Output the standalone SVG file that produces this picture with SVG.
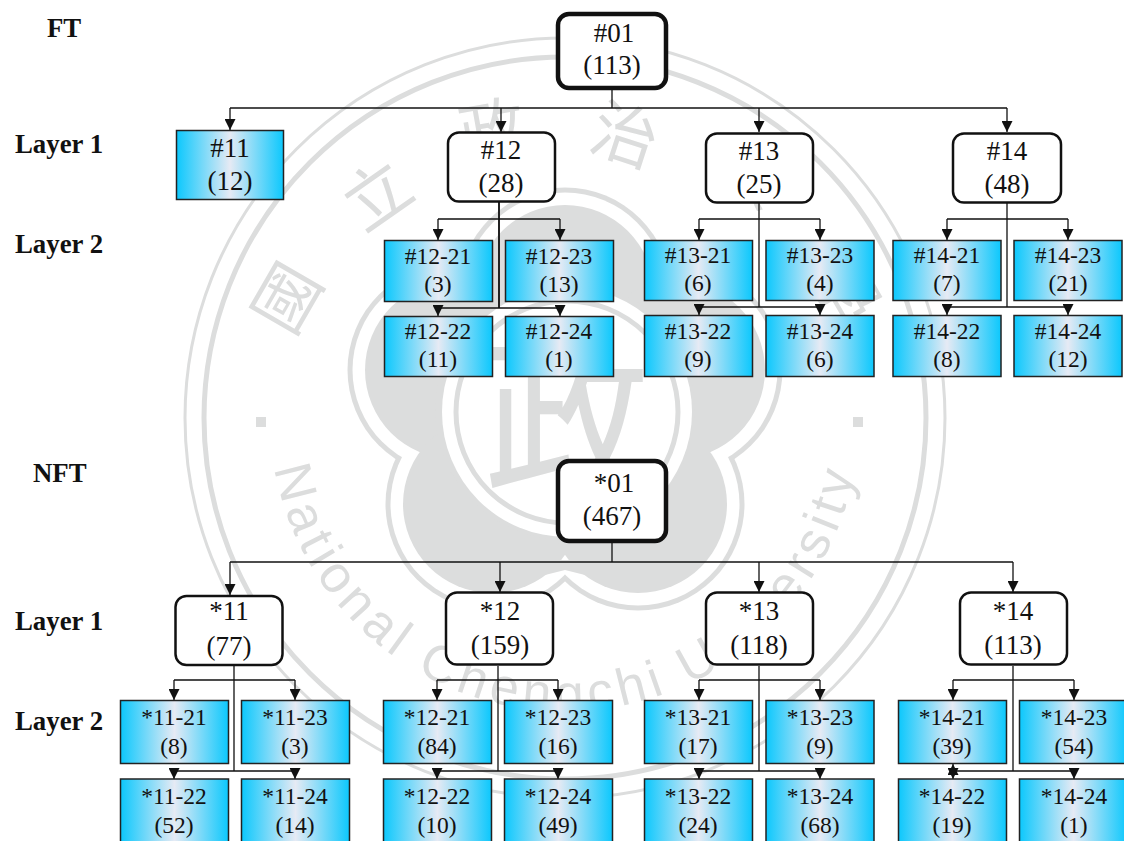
<svg xmlns="http://www.w3.org/2000/svg" width="1124" height="841" viewBox="0 0 1124 841">
<style>
text{font-family:"Liberation Serif","Times New Roman",serif;fill:#111;text-anchor:middle}
.lab{font-weight:bold;font-size:26.800px;text-anchor:start}
.big{font-size:27px}
.mid{font-size:23.500px}
.leaf{fill:url(#g);stroke:#222;stroke-width:1.5}
.box{fill:#fff;stroke:#111;stroke-width:2.5}
.root{fill:#fff;stroke:#111;stroke-width:4.5}
.c{fill:none;stroke:#111;stroke-width:1.3}
.t{fill:none;stroke:#222;stroke-width:2}
.w{fill:none;stroke:#dcdddd}
.wt{fill:#dcdddd;font-family:"Noto Sans CJK TC","Noto Sans",sans-serif}
.wl{fill:#dcdddd;font-family:"Liberation Sans",sans-serif;font-size:52px;letter-spacing:5.500px}
</style>
<defs>
<linearGradient id="g"><stop offset="0" stop-color="#0cc8fd"/><stop offset=".5" stop-color="#e6eaf4"/><stop offset="1" stop-color="#0cc8fd"/></linearGradient>
<marker id="a" markerUnits="userSpaceOnUse" markerWidth="11" markerHeight="11" refX="11" refY="5.500" orient="auto"><path d="M0 0L11 5.500L0 11Z" fill="#111"/></marker>
</defs>
<g id="watermark">
<circle class="w" cx="565" cy="418" r="380" stroke-width="3"/>
<circle class="w" cx="565" cy="418" r="361" stroke-width="5"/>
<g fill="#dcdddd"><circle cx="565" cy="294" r="106.500"/><circle cx="454" cy="370" r="106.500"/><circle cx="676" cy="370" r="106.500"/><circle cx="492" cy="504" r="106.500"/><circle cx="638" cy="504" r="106.500"/></g>
<g fill="#fff"><circle cx="565" cy="294" r="101.500"/><circle cx="454" cy="370" r="101.500"/><circle cx="676" cy="370" r="101.500"/><circle cx="492" cy="504" r="101.500"/><circle cx="638" cy="504" r="101.500"/><circle cx="565" cy="410" r="130"/></g>
<g fill="#dcdddd"><circle cx="565" cy="294" r="89"/><circle cx="454" cy="370" r="89"/><circle cx="676" cy="370" r="89"/><circle cx="492" cy="504" r="89"/><circle cx="638" cy="504" r="89"/><circle cx="565" cy="410" r="130"/><path d="M530 560L545 575L565 570L585 575L600 560Z"/></g>
<circle cx="567" cy="412" r="125" fill="#fff"/>
<circle cx="567" cy="412" r="111" fill="none" stroke="#dcdddd" stroke-width="5"/>
<text class="wt" font-size="165" x="567" y="478" transform="translate(0 -46) scale(1 1.121)">政</text>
<text class="wt" font-size="66" x="287" y="322" transform="rotate(-60 287 298)">國</text>
<text class="wt" font-size="66" x="377" y="219" transform="rotate(-35 377 195)">立</text>
<text class="wt" font-size="66" x="492" y="154" transform="rotate(-10 492 130)">政</text>
<text class="wt" font-size="66" x="625" y="159" transform="rotate(18 625 135)">治</text>
<text class="wt" font-size="66" x="752" y="196" transform="rotate(35 752 172)">大</text>
<text class="wt" font-size="66" x="845" y="314" transform="rotate(60 845 290)">學</text>
<rect x="256" y="417" width="10" height="10" fill="#dcdddd"/>
<rect x="853" y="417" width="10" height="10" fill="#dcdddd"/>
<path id="arc" fill="none" d="M277 480A295 295 0 0 0 853 480"/>
<text class="wl"><textPath href="#arc" startOffset="50%">National Chengchi University</textPath></text>
</g>
<g id="connectors">
<path class="c" d="M612 90V108"/>
<path class="c" d="M230 108H1007"/>
<path class="c" d="M230 108V130" marker-end="url(#a)"/><path class="c" d="M501 108V132" marker-end="url(#a)"/><path class="c" d="M759 108V132" marker-end="url(#a)"/><path class="c" d="M1007 108V132" marker-end="url(#a)"/>
<path class="t" d="M499 201V308"/><path class="c" d="M438 219H560M438 308H560"/><path class="c" d="M438 219V240" marker-end="url(#a)"/><path class="c" d="M560 219V240" marker-end="url(#a)"/><path class="c" d="M438 305V316" marker-end="url(#a)"/><path class="c" d="M560 305V316" marker-end="url(#a)"/>
<path class="c" d="M759 203V307M699 219H820M699 307H820"/><path class="c" d="M699 219V240" marker-end="url(#a)"/><path class="c" d="M820 219V240" marker-end="url(#a)"/><path class="c" d="M699 304V315" marker-end="url(#a)"/><path class="c" d="M820 304V315" marker-end="url(#a)"/>
<path class="c" d="M1007 203V307M947 219H1068M947 307H1068"/><path class="c" d="M947 219V240" marker-end="url(#a)"/><path class="c" d="M1068 219V240" marker-end="url(#a)"/><path class="c" d="M947 304V315" marker-end="url(#a)"/><path class="c" d="M1068 304V315" marker-end="url(#a)"/>
<path class="c" d="M612 543V562"/>
<path class="c" d="M230 562H1013"/><path class="c" d="M230 562V595" marker-end="url(#a)"/><path class="c" d="M500 562V592" marker-end="url(#a)"/><path class="c" d="M759 562V592" marker-end="url(#a)"/><path class="c" d="M1013 562V592" marker-end="url(#a)"/>
<path class="c" d="M234 666V771M174 680H295M174 771H295"/><path class="c" d="M174 680V700" marker-end="url(#a)"/><path class="c" d="M295 680V700" marker-end="url(#a)"/><path class="c" d="M174 768V779" marker-end="url(#a)"/><path class="c" d="M295 768V779" marker-end="url(#a)"/>
<path class="c" d="M498 666V771M437 680H558M437 771H558"/><path class="c" d="M437 680V700" marker-end="url(#a)"/><path class="c" d="M558 680V700" marker-end="url(#a)"/><path class="c" d="M437 768V779" marker-end="url(#a)"/><path class="c" d="M558 768V779" marker-end="url(#a)"/>
<path class="c" d="M759 666V771M699 680H820M699 771H820"/><path class="c" d="M699 680V700" marker-end="url(#a)"/><path class="c" d="M820 680V700" marker-end="url(#a)"/><path class="c" d="M699 768V779" marker-end="url(#a)"/><path class="c" d="M820 768V779" marker-end="url(#a)"/>
<path class="c" d="M1013 666V771M953 680H1074M953 771H1074"/><path class="c" d="M953 680V700" marker-end="url(#a)"/><path class="c" d="M1074 680V700" marker-end="url(#a)"/><path class="c" d="M953 768V779" marker-end="url(#a)"/><path class="c" d="M1074 768V779" marker-end="url(#a)"/>
<path class="c" d="M953 776V764" marker-end="url(#a)"/>
</g>
<g id="labels">
<text class="lab" x="47" y="37">FT</text><text class="lab" x="15" y="153">Layer 1</text><text class="lab" x="15" y="253">Layer 2</text>
<text class="lab" x="33" y="482">NFT</text><text class="lab" x="15" y="630">Layer 1</text><text class="lab" x="15" y="730">Layer 2</text>
</g>
<g id="n01"><rect class="root" x="558" y="14" width="108" height="74" rx="11"/><text class="big" x="614" y="42">#01</text><text class="big" x="612" y="74">(113)</text></g>
<g id="n11"><rect class="leaf" x="176.500" y="130.500" width="107" height="69"/><text class="big" x="230" y="157">#11</text><text class="big" x="230" y="190">(12)</text></g>
<g id="n12"><rect class="box" x="448" y="132.500" width="107" height="69" rx="11"/><text class="big" x="501" y="159">#12</text><text class="big" x="501" y="192">(28)</text></g>
<g id="n13"><rect class="box" x="706" y="133.500" width="107" height="69" rx="11"/><text class="big" x="759" y="160">#13</text><text class="big" x="759" y="193">(25)</text></g>
<g id="n14"><rect class="box" x="953" y="133.500" width="108" height="69" rx="11"/><text class="big" x="1007" y="160">#14</text><text class="big" x="1007" y="193">(48)</text></g>
<g id="n1221"><rect class="leaf" x="384.500" y="240.500" width="108" height="61"/><text class="mid" x="438" y="264">#12-21</text><text class="mid" x="438" y="292">(3)</text></g>
<g id="n1223"><rect class="leaf" x="505.500" y="240.500" width="108" height="61"/><text class="mid" x="559" y="264">#12-23</text><text class="mid" x="559" y="292">(13)</text></g>
<g id="n1222"><rect class="leaf" x="384.500" y="316.500" width="108" height="60"/><text class="mid" x="438" y="339">#12-22</text><text class="mid" x="438" y="367">(11)</text></g>
<g id="n1224"><rect class="leaf" x="505.500" y="316.500" width="108" height="60"/><text class="mid" x="559" y="339">#12-24</text><text class="mid" x="559" y="367">(1)</text></g>
<g id="n1321"><rect class="leaf" x="644.500" y="240.500" width="108" height="60"/><text class="mid" x="698" y="263">#13-21</text><text class="mid" x="698" y="291">(6)</text></g>
<g id="n1323"><rect class="leaf" x="766" y="240.500" width="108" height="60"/><text class="mid" x="820" y="263">#13-23</text><text class="mid" x="820" y="291">(4)</text></g>
<g id="n1322"><rect class="leaf" x="644.500" y="315.500" width="108" height="61"/><text class="mid" x="698" y="339">#13-22</text><text class="mid" x="698" y="367">(9)</text></g>
<g id="n1324"><rect class="leaf" x="766" y="315.500" width="108" height="61"/><text class="mid" x="820" y="339">#13-24</text><text class="mid" x="820" y="367">(6)</text></g>
<g id="n1421"><rect class="leaf" x="893" y="240.500" width="108" height="60"/><text class="mid" x="947" y="263">#14-21</text><text class="mid" x="947" y="291">(7)</text></g>
<g id="n1423"><rect class="leaf" x="1014" y="240.500" width="108" height="60"/><text class="mid" x="1068" y="263">#14-23</text><text class="mid" x="1068" y="291">(21)</text></g>
<g id="n1422"><rect class="leaf" x="893" y="315.500" width="108" height="61"/><text class="mid" x="947" y="339">#14-22</text><text class="mid" x="947" y="367">(8)</text></g>
<g id="n1424"><rect class="leaf" x="1014" y="315.500" width="108" height="61"/><text class="mid" x="1068" y="339">#14-24</text><text class="mid" x="1068" y="367">(12)</text></g>
<g id="s01"><rect class="root" x="558" y="461" width="108" height="80" rx="11"/><text class="big" x="614" y="492">*01</text><text class="big" x="612" y="525">(467)</text></g>
<g id="s11"><rect class="box" x="175.500" y="596" width="107" height="69" rx="11"/><text class="big" x="229" y="620">*11</text><text class="big" x="229" y="655">(77)</text></g>
<g id="s12"><rect class="box" x="446" y="592.500" width="107" height="72" rx="11"/><text class="big" x="500" y="620">*12</text><text class="big" x="500" y="654">(159)</text></g>
<g id="s13"><rect class="box" x="706" y="592.500" width="107" height="72" rx="11"/><text class="big" x="759" y="620">*13</text><text class="big" x="759" y="654">(118)</text></g>
<g id="s14"><rect class="box" x="960" y="592.500" width="107" height="72" rx="11"/><text class="big" x="1013" y="620">*14</text><text class="big" x="1013" y="654">(113)</text></g>
<g id="s1121"><rect class="leaf" x="120.500" y="700.500" width="108" height="63"/><text class="mid" x="174" y="725">*11-21</text><text class="mid" x="174" y="754">(8)</text></g>
<g id="s1123"><rect class="leaf" x="241.500" y="700.500" width="108" height="63"/><text class="mid" x="295" y="725">*11-23</text><text class="mid" x="295" y="754">(3)</text></g>
<g id="s1122"><rect class="leaf" x="120.500" y="779" width="108" height="63"/><text class="mid" x="174" y="804">*11-22</text><text class="mid" x="174" y="833">(52)</text></g>
<g id="s1124"><rect class="leaf" x="241.500" y="779" width="108" height="63"/><text class="mid" x="295" y="804">*11-24</text><text class="mid" x="295" y="833">(14)</text></g>
<g id="s1221"><rect class="leaf" x="383.500" y="700.500" width="108" height="63"/><text class="mid" x="437" y="725">*12-21</text><text class="mid" x="437" y="754">(84)</text></g>
<g id="s1223"><rect class="leaf" x="504.500" y="700.500" width="108" height="63"/><text class="mid" x="558" y="725">*12-23</text><text class="mid" x="558" y="754">(16)</text></g>
<g id="s1222"><rect class="leaf" x="383.500" y="779" width="108" height="63"/><text class="mid" x="437" y="804">*12-22</text><text class="mid" x="437" y="833">(10)</text></g>
<g id="s1224"><rect class="leaf" x="504.500" y="779" width="108" height="63"/><text class="mid" x="558" y="804">*12-24</text><text class="mid" x="558" y="833">(49)</text></g>
<g id="s1321"><rect class="leaf" x="644.500" y="700.500" width="108" height="63"/><text class="mid" x="698" y="725">*13-21</text><text class="mid" x="698" y="754">(17)</text></g>
<g id="s1323"><rect class="leaf" x="766" y="700.500" width="108" height="63"/><text class="mid" x="820" y="725">*13-23</text><text class="mid" x="820" y="754">(9)</text></g>
<g id="s1322"><rect class="leaf" x="644.500" y="779" width="108" height="63"/><text class="mid" x="698" y="804">*13-22</text><text class="mid" x="698" y="833">(24)</text></g>
<g id="s1324"><rect class="leaf" x="766" y="779" width="108" height="63"/><text class="mid" x="820" y="804">*13-24</text><text class="mid" x="820" y="833">(68)</text></g>
<g id="s1421"><rect class="leaf" x="898.500" y="700.500" width="108" height="63"/><text class="mid" x="952" y="725">*14-21</text><text class="mid" x="952" y="754">(39)</text></g>
<g id="s1423"><rect class="leaf" x="1019.500" y="700.500" width="108" height="63"/><text class="mid" x="1074" y="725">*14-23</text><text class="mid" x="1074" y="754">(54)</text></g>
<g id="s1422"><rect class="leaf" x="898.500" y="779" width="108" height="63"/><text class="mid" x="952" y="804">*14-22</text><text class="mid" x="952" y="833">(19)</text></g>
<g id="s1424"><rect class="leaf" x="1019.500" y="779" width="108" height="63"/><text class="mid" x="1074" y="804">*14-24</text><text class="mid" x="1074" y="833">(1)</text></g>
</svg>
